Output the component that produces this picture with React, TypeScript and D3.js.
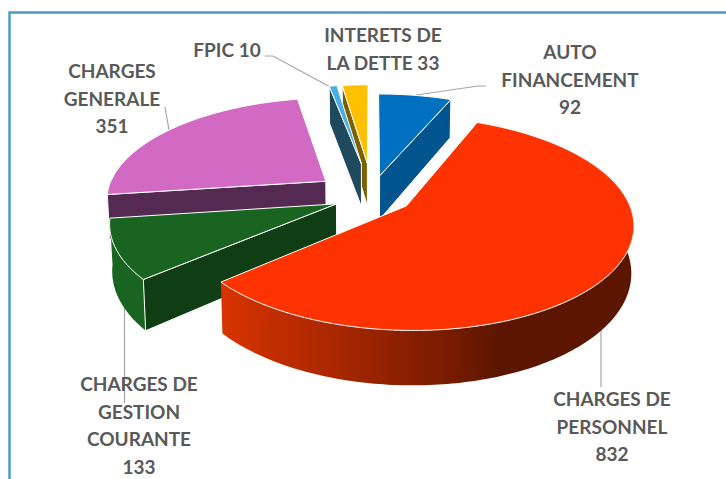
import { useMemo } from 'react';
import * as d3 from 'd3';

// Budget split. Clockwise from 12 o'clock.
const categories = ['AUTO FINANCEMENT', 'CHARGES DE PERSONNEL', 'CHARGES DE GESTION COURANTE', 'CHARGES GENERALE', 'FPIC', 'INTERETS DE LA DETTE'];
const values = [92, 832, 133, 351, 10, 33];
const topColors = ['#0070C0', '#FF3300', '#196420', '#D26AC4', '#45B0E1', '#FFC000'];
const cutColors = ['#00558F', '#8A2000', '#0F3D14', '#552A52', '#1F4A5E', '#7F6000'];
const wallColors = ['#00558F', 'url(#redWall)', '#196420', '#552A52', '#1F4A5E', '#7F6000'];
const explode = [0.18, 0.19, 0.175, 0.265, 0.31, 0.31];
// left-hand slices sit a little lower than a purely radial explosion gives
const nudge = [0, 0.015, 0.035, 0.035, 0, 0];

// back to front
const paintOrder = [3, 5, 4, 0, 2, 1];

const labelLines = [
  ['AUTO', 'FINANCEMENT', '92'],
  ['CHARGES DE', 'PERSONNEL', '832'],
  ['CHARGES DE', 'GESTION', 'COURANTE', '133'],
  ['CHARGES', 'GENERALE', '351'],
  ['FPIC 10'],
  ['INTERETS DE', 'LA DETTE 33'],
];
const labelX = [570, 612, 139, 112, 227, 383];
const labelY = [59, 406, 391, 78, 57, 42];
const labelStep = 27.7;
const leaders = [
  [[416, 95], [478, 86], [486, 86]],
  [[601, 310], [601, 387]],
  [[124.5, 280], [124.5, 403]],
  [[165, 107], [169, 130]],
  [[265, 56], [273, 56], [332, 88]],
];

const cx = 372;
const cy = 193;
const radiusX = 219;
const radiusY = 100;
const tilt = 0.16;
const depth = 45;
const toRad = Math.PI / 180;

// plane coords -> screen, with a bit of perspective so the front looks bigger
function project(u: number, v: number, drop = 0): [number, number] {
  const s = 1 / (1 - tilt * v);
  const taper = drop ? 0.99 : 1;
  return [cx + u * radiusX * s * taper, cy + v * radiusY * s + drop * depth * s];
}

const line = d3.line();

export default function App() {
  const slices = useMemo(() => {
    const arcs = d3.pie<number>().sort(null)(values);
    return arcs.map((a, i) => {
      const mid = (a.startAngle + a.endAngle) / 2;
      const ou = explode[i] * Math.sin(mid);
      const ov = -explode[i] * Math.cos(mid) + nudge[i];
      const at = (deg: number, drop = 0) =>
        project(ou + Math.sin(deg * toRad), ov - Math.cos(deg * toRad), drop);
      const apex = (drop = 0) => project(ou, ov, drop);
      const a0 = a.startAngle / toRad;
      const a1 = a.endAngle / toRad;
      const n = Math.max(2, Math.ceil(a1 - a0));
      const angles = d3.range(n + 1).map(k => a0 + ((a1 - a0) * k) / n);

      const top = line([apex(), ...angles.map(d => at(d)), apex()]) + 'Z';

      const front = angles.filter(d => d > 70 && d < 272);
      const wall = front.length > 1
        ? line([...front.map(d => at(d)), ...[...front].reverse().map(d => at(d, 1))]) + 'Z'
        : null;

      // which cut faces look at the viewer
      const cuts: string[] = [];
      if (Math.sin(a.startAngle) < 0) cuts.push(line([apex(), at(a0), at(a0, 1), apex(1)]) + 'Z');
      if (Math.sin(a.endAngle) > 0) cuts.push(line([apex(), at(a1), at(a1, 1), apex(1)]) + 'Z');

      return { i, top, wall, cuts };
    });
  }, []);

  return (
    <svg width={726} height={479} style={{ position: 'absolute', left: 0, top: 0, background: '#fff' }}>
      <defs>
        <linearGradient id="redWall" gradientUnits="userSpaceOnUse" x1={220} x2={500} y1={0} y2={0}>
          <stop offset="0" stopColor="#D83400" />
          <stop offset="0.45" stopColor="#A42600" />
          <stop offset="0.8" stopColor="#7A1C00" />
          <stop offset="1" stopColor="#5C1600" />
        </linearGradient>
      </defs>

      <path d="M9.5,479V12.5H726" fill="none" stroke="#4A9CC0" strokeWidth={2.5} />

      {leaders.map((pts, i) => (
        <path key={i} d={line(pts as [number, number][]) ?? ''} fill="none" stroke="#A6A6A6" strokeWidth={1.2} />
      ))}

      {paintOrder.map(idx => {
        const sl = slices[idx];
        return (
          <g key={categories[idx]} stroke="#fff" strokeWidth={1} strokeLinejoin="round">
            {sl.wall && <path d={sl.wall} fill={wallColors[idx]} stroke="none" />}
            {sl.cuts.map((d, k) => <path key={k} d={d} fill={cutColors[idx]} />)}
            <path d={sl.top} fill={topColors[idx]} />
          </g>
        );
      })}

      <g fontFamily="Lato, sans-serif" fontWeight={700} fontSize={19} fill="#595959" textAnchor="middle">
        {labelLines.map((lines, i) => (
          <text key={i} x={labelX[i]} y={labelY[i]}>
            {lines.map((t, k) => (
              <tspan key={k} x={labelX[i]} y={labelY[i] + k * labelStep}>{t}</tspan>
            ))}
          </text>
        ))}
      </g>
    </svg>
  );
}
